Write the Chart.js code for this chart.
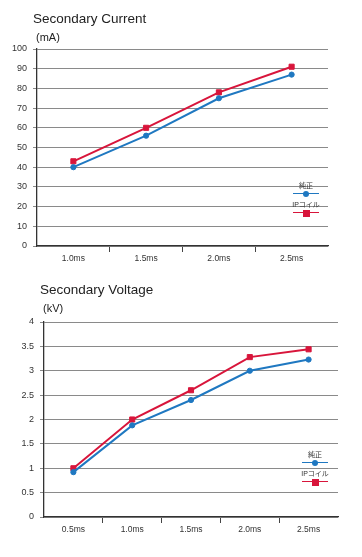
<!DOCTYPE html>
<html>
<head>
<meta charset="utf-8">
<script src="https://cdn.jsdelivr.net/npm/chart.js@4.4.1/dist/chart.umd.min.js"></script>
<style>
  body { margin: 0; background: #fff; font-family: "Liberation Sans", "Noto Sans CJK JP", sans-serif; }
  .wrap { position: relative; width: 362px; height: 557px; overflow: hidden; }
  .box { position: absolute; left: 0; width: 362px; }
  .title { position: absolute; font-size: 13.5px; color: #222; white-space: nowrap; }
  .unit { position: absolute; font-size: 11px; color: #222; white-space: nowrap; }
  .legend { position: absolute; font-size: 7px; color: #333; width: 40px; }
  .legend .item { position: relative; height: 19px; }
  .legend .name { display: block; text-align: center; line-height: 8px; height: 8px; }
  .legend .sample { position: absolute; left: 7px; top: 11px; width: 26px; height: 1.2px; }
  .legend .mark { position: absolute; left: 17px; top: 9px; width: 6px; height: 6px; }
</style>
</head>
<body>
<div class="wrap">
  <div class="box" style="top:0;height:270px;">
    <canvas id="currentChart" width="362" height="270"></canvas>
    <div class="title" style="left:33px;top:11px;">Secondary Current</div>
    <div class="unit" style="left:36px;top:31px;">(mA)</div>
    <div class="legend" id="currentLegend" style="left:286px;top:182px;"></div>
  </div>
  <div class="box" style="top:270px;height:287px;">
    <canvas id="voltageChart" width="362" height="287"></canvas>
    <div class="title" style="left:40px;top:12px;">Secondary Voltage</div>
    <div class="unit" style="left:43px;top:32px;">(kV)</div>
    <div class="legend" id="voltageLegend" style="left:295px;top:181px;"></div>
  </div>
</div>
<script>
// data
const currentLabels = ['1.0ms', '1.5ms', '2.0ms', '2.5ms'];
const currentGenuine = [40, 56, 75, 87];
const currentIP = [43, 60, 78, 91];

const voltageLabels = ['0.5ms', '1.0ms', '1.5ms', '2.0ms', '2.5ms'];
const voltageGenuine = [0.92, 1.88, 2.4, 3.0, 3.23];
const voltageIP = [1.0, 2.0, 2.6, 3.28, 3.44];

const seriesNames = ['純正', 'IPコイル'];

const BLUE = '#1f78c1';
const RED = '#d8153b';
const FONT = '"Liberation Sans", "Noto Sans CJK JP", sans-serif';

function makeDatasets(genuine, ip){
  return [{
    label: seriesNames[0],
    data: genuine,
    borderColor: BLUE,
    backgroundColor: BLUE,
    borderWidth: 2,
    pointStyle: 'circle',
    pointRadius: 2.6,
    pointBorderWidth: 1,
    tension: 0,
  },
  {
    label: seriesNames[1],
    data: ip,
    borderColor: RED,
    backgroundColor: RED,
    borderWidth: 2,
    pointStyle: 'rect',
    pointRadius: 3.6,
    pointBorderWidth: 1,
    tension: 0,
  }];
}

function makeChart(id, labels, datasets, yOpts, layout){
  return new Chart(document.getElementById(id), {
    type: 'line',
    data: { labels: labels, datasets: datasets },
    options: {
      responsive: false,
      animation: false,
      layout: { padding: layout.padding },
      plugins: { legend: { display: false }, tooltip: { enabled: false } },
      scales: {
        x: {
          offset: true,
          grid: {
            offset: true,
            drawOnChartArea: false,
            tickLength: 6,
            // no tick marks at the two ends of the axis
            tickColor: function(ctx){
              return (ctx.type !== 'tick' || ctx.index === 0) ? 'rgba(0,0,0,0)' : '#444';
            },
          },
          border: { color: '#333', width: 1.3 },
          ticks: { color: '#333', font: { family: FONT, size: 8.5 }, padding: 2 },
          afterFit: function(scale){ scale.height = layout.xHeight; },
        },
        y: {
          min: yOpts.min,
          max: yOpts.max,
          grid: { color: '#8a8a8a', lineWidth: 1, tickLength: 4 },
          border: { color: '#333', width: 1.3 },
          ticks: {
            stepSize: yOpts.step,
            color: '#333',
            font: { family: FONT, size: 9 },
            padding: 6,
            callback: function(value){ return String(value); },
          },
          afterFit: function(scale){ scale.width = layout.yWidth; },
        }
      }
    }
  });
}

function buildLegend(el, datasets){
  for(let ds of datasets){
    const item = document.createElement('div');
    item.className = 'item';
    const name = document.createElement('span');
    name.className = 'name';
    name.textContent = ds.label;
    const line = document.createElement('span');
    line.className = 'sample';
    line.style.background = ds.borderColor;
    const mark = document.createElement('span');
    mark.className = 'mark';
    mark.style.background = ds.backgroundColor;
    if(ds.pointStyle === 'circle'){
      mark.style.borderRadius = '50%';
    }else{
      mark.style.left = '16.5px';
      mark.style.top = '8.5px';
      mark.style.width = '7px';
      mark.style.height = '7px';
    }
    item.appendChild(name);
    item.appendChild(line);
    item.appendChild(mark);
    el.appendChild(item);
  }
}

const currentSets = makeDatasets(currentGenuine, currentIP);
makeChart('currentChart', currentLabels, currentSets,
  { min: 0, max: 100, step: 10 },
  { padding: { top: 49, right: 34, bottom: 0, left: 0 }, xHeight: 24, yWidth: 37 });
buildLegend(document.getElementById('currentLegend'), currentSets);

const voltageSets = makeDatasets(voltageGenuine, voltageIP);
makeChart('voltageChart', voltageLabels, voltageSets,
  { min: 0, max: 4, step: 0.5 },
  { padding: { top: 52, right: 24, bottom: 16, left: 0 }, xHeight: 24, yWidth: 44 });
buildLegend(document.getElementById('voltageLegend'), voltageSets);
</script>
</body>
</html>
